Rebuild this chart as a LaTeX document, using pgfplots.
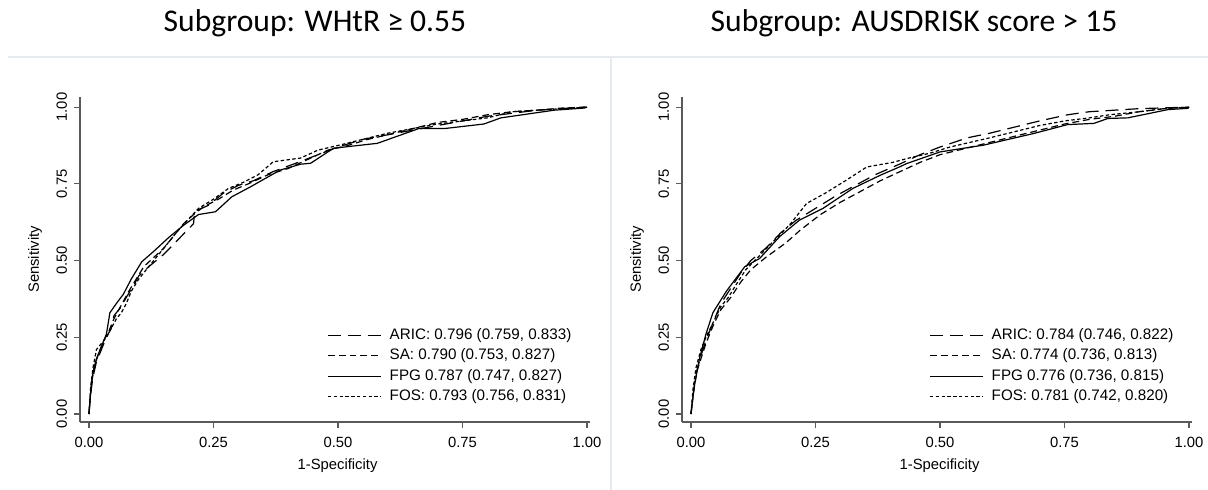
\documentclass[border=0pt]{standalone}
\usepackage{fontspec}
\setmainfont{Liberation Sans}
\newfontfamily\titlefont{Carlito}
\usepackage{pgfplots}
\pgfplotsset{compat=1.18}
\definecolor{sepgray}{RGB}{230,234,238}
\definecolor{axgray}{RGB}{90,90,90}

\pgfplotsset{
  rocax/.style={
    scale only axis, width=255pt, height=162.5pt,
    xmin=-0.018, xmax=1.006, ymin=-0.026, ymax=1.033,
    axis lines=left, axis line style={-, axgray, line width=0.55pt},
    tick style={axgray, line width=0.55pt}, tick align=outside,
    major tick length=3pt,
    xtick={0,0.25,0.5,0.75,1}, ytick={0,0.25,0.5,0.75,1},
    xticklabels={0.00,0.25,0.50,0.75,1.00},
    yticklabels={0.00,0.25,0.50,0.75,1.00},
    tick label style={font=\fontsize{7.4}{9}\selectfont},
    xticklabel style={yshift=-1.2pt},
    yticklabel style={rotate=90, anchor=south},
    xlabel={1-Specificity}, ylabel={Sensitivity},
    label style={font=\fontsize{7.4}{9}\selectfont},
    xlabel style={at={(axis description cs:0.505,-0.135)}, anchor=center},
    ylabel style={at={(axis description cs:-0.088,0.5)}, anchor=center},
    legend style={draw=none, fill=none, font=\fontsize{7.6}{9}\selectfont,
      at={(0.978,0.04)}, anchor=south east, row sep=2.2pt,
      nodes={inner sep=0.5pt},
      /tikz/every odd column/.append style={column sep=3.6pt}},
    legend cell align=left,
    legend image code/.code={\draw[#1] (0pt,0pt) -- (26.5pt,0pt);},
    every axis plot/.append style={black, line width=0.6pt},
  },
  aric/.style={dash pattern=on 6.5pt off 3.5pt},
  sa/.style={dash pattern=on 3.4pt off 2pt},
  fpg/.style={solid},
  fos/.style={dash pattern=on 1.7pt off 1.2pt},
}

\begin{document}
\begin{tikzpicture}
\useasboundingbox (0,0) rectangle (604pt,245pt);
\draw[sepgray, line width=0.6pt] (4pt,216.5pt) -- (604pt,216.5pt);
\draw[sepgray, line width=0.6pt] (305.5pt,216.5pt) -- (305.5pt,0pt);
\node[font=\titlefont\fontsize{15.8}{19}\selectfont] at (157.5pt,233.3pt) {Subgroup: WHtR ≥ 0.55};
\node[font=\titlefont\fontsize{15.8}{19}\selectfont] at (457pt,233.3pt) {Subgroup: AUSDRISK score > 15};

% left panel
\begin{axis}[rocax, at={(40pt,34pt)}, anchor=south west]
\addplot[aric] coordinates {
(0,0) (0.003,0.06) (0.008,0.12) (0.015,0.17) (0.025,0.21) (0.035,0.25)
(0.045,0.28) (0.05,0.32) (0.065,0.35) (0.075,0.38) (0.09,0.42) (0.10,0.45)
(0.12,0.48) (0.15,0.52) (0.18,0.57) (0.21,0.62) (0.212,0.66) (0.24,0.68)
(0.27,0.72) (0.30,0.745) (0.33,0.76) (0.37,0.79) (0.42,0.82) (0.46,0.845)
(0.50,0.87) (0.55,0.895) (0.60,0.91) (0.65,0.925) (0.70,0.94) (0.75,0.955)
(0.80,0.97) (0.85,0.98) (0.90,0.99) (0.95,0.995) (1,1)};
\addplot[sa] coordinates {
(0,0) (0.002,0.05) (0.006,0.11) (0.012,0.16) (0.02,0.2) (0.03,0.24)
(0.04,0.27) (0.05,0.31) (0.06,0.34) (0.07,0.37) (0.08,0.40) (0.095,0.44)
(0.11,0.48) (0.13,0.51) (0.15,0.54) (0.17,0.58) (0.19,0.62) (0.21,0.65)
(0.23,0.675) (0.26,0.70) (0.29,0.73) (0.32,0.75) (0.36,0.78) (0.40,0.80)
(0.44,0.83) (0.48,0.86) (0.52,0.875) (0.56,0.895) (0.60,0.91) (0.65,0.93)
(0.70,0.95) (0.75,0.96) (0.80,0.975) (0.85,0.985) (0.90,0.99) (0.95,0.997) (1,1)};
\addplot[fpg] coordinates {
(0,0) (0.002,0.04) (0.005,0.105) (0.010,0.15) (0.015,0.18) (0.025,0.22)
(0.035,0.26) (0.042,0.33) (0.055,0.36) (0.069,0.39) (0.085,0.44) (0.106,0.496)
(0.13,0.53) (0.16,0.575) (0.19,0.615) (0.22,0.65) (0.254,0.659) (0.287,0.708)
(0.324,0.74) (0.384,0.795) (0.425,0.814) (0.445,0.817) (0.491,0.866) (0.579,0.882)
(0.662,0.93) (0.713,0.93) (0.793,0.945) (0.827,0.965) (0.87,0.975) (0.934,0.99)
(0.995,0.997) (1,1)};
\addplot[fos] coordinates {
(0,0) (0.003,0.08) (0.008,0.15) (0.015,0.21) (0.025,0.23) (0.035,0.25)
(0.045,0.28) (0.055,0.31) (0.065,0.33) (0.075,0.36) (0.085,0.40) (0.10,0.44)
(0.12,0.48) (0.14,0.52) (0.16,0.56) (0.18,0.60) (0.20,0.635) (0.22,0.67)
(0.25,0.70) (0.28,0.735) (0.31,0.755) (0.34,0.78) (0.37,0.822) (0.425,0.834)
(0.46,0.86) (0.50,0.875) (0.55,0.895) (0.60,0.915) (0.65,0.93) (0.70,0.945)
(0.75,0.955) (0.80,0.965) (0.85,0.985) (0.90,0.99) (0.95,0.995) (1,1)};
\legend{{ARIC: 0.796 (0.759, 0.833)}, {SA: 0.790 (0.753, 0.827)},
  {FPG 0.787 (0.747, 0.827)}, {FOS: 0.793 (0.756, 0.831)}}
\end{axis}

% right panel
\begin{axis}[rocax, at={(341pt,34pt)}, anchor=south west]
\addplot[aric] coordinates {
(0,0) (0.004,0.06) (0.01,0.13) (0.02,0.19) (0.03,0.24) (0.045,0.30)
(0.06,0.36) (0.08,0.41) (0.10,0.46) (0.12,0.50) (0.15,0.54) (0.18,0.59)
(0.21,0.63) (0.25,0.67) (0.29,0.71) (0.33,0.745) (0.37,0.78) (0.42,0.815)
(0.46,0.845) (0.50,0.87) (0.555,0.90) (0.60,0.915) (0.65,0.935) (0.70,0.955)
(0.756,0.975) (0.80,0.985) (0.85,0.99) (0.90,0.995) (1,1)};
\addplot[sa] coordinates {
(0,0) (0.005,0.07) (0.012,0.14) (0.02,0.18) (0.03,0.23) (0.045,0.29)
(0.06,0.34) (0.08,0.38) (0.10,0.43) (0.12,0.47) (0.15,0.51) (0.19,0.557)
(0.22,0.60) (0.26,0.65) (0.30,0.69) (0.34,0.725) (0.38,0.76) (0.42,0.79)
(0.46,0.82) (0.50,0.845) (0.55,0.865) (0.60,0.885) (0.65,0.905) (0.70,0.925)
(0.75,0.945) (0.80,0.96) (0.85,0.97) (0.90,0.985) (0.95,0.995) (1,1)};
\addplot[fpg] coordinates {
(0,0) (0.007,0.094) (0.017,0.18) (0.03,0.26) (0.044,0.33) (0.071,0.40)
(0.108,0.48) (0.138,0.507) (0.178,0.578) (0.218,0.632) (0.265,0.67) (0.325,0.735)
(0.38,0.778) (0.42,0.806) (0.433,0.816) (0.5,0.854) (0.587,0.876) (0.688,0.914)
(0.756,0.943) (0.809,0.947) (0.837,0.963) (0.877,0.965) (0.958,0.992) (0.998,0.996) (1,1)};
\addplot[fos] coordinates {
(0,0) (0.004,0.08) (0.01,0.15) (0.02,0.21) (0.03,0.25) (0.045,0.30)
(0.06,0.35) (0.075,0.38) (0.09,0.42) (0.11,0.47) (0.14,0.52) (0.17,0.57)
(0.20,0.62) (0.232,0.686) (0.27,0.72) (0.31,0.76) (0.353,0.805) (0.405,0.82)
(0.44,0.835) (0.48,0.85) (0.52,0.87) (0.56,0.885) (0.60,0.90) (0.65,0.92)
(0.70,0.94) (0.75,0.955) (0.80,0.965) (0.84,0.975) (0.90,0.985) (0.95,0.995) (1,1)};
\legend{{ARIC: 0.784 (0.746, 0.822)}, {SA: 0.774 (0.736, 0.813)},
  {FPG 0.776 (0.736, 0.815)}, {FOS: 0.781 (0.742, 0.820)}}
\end{axis}
\end{tikzpicture}
\end{document}
